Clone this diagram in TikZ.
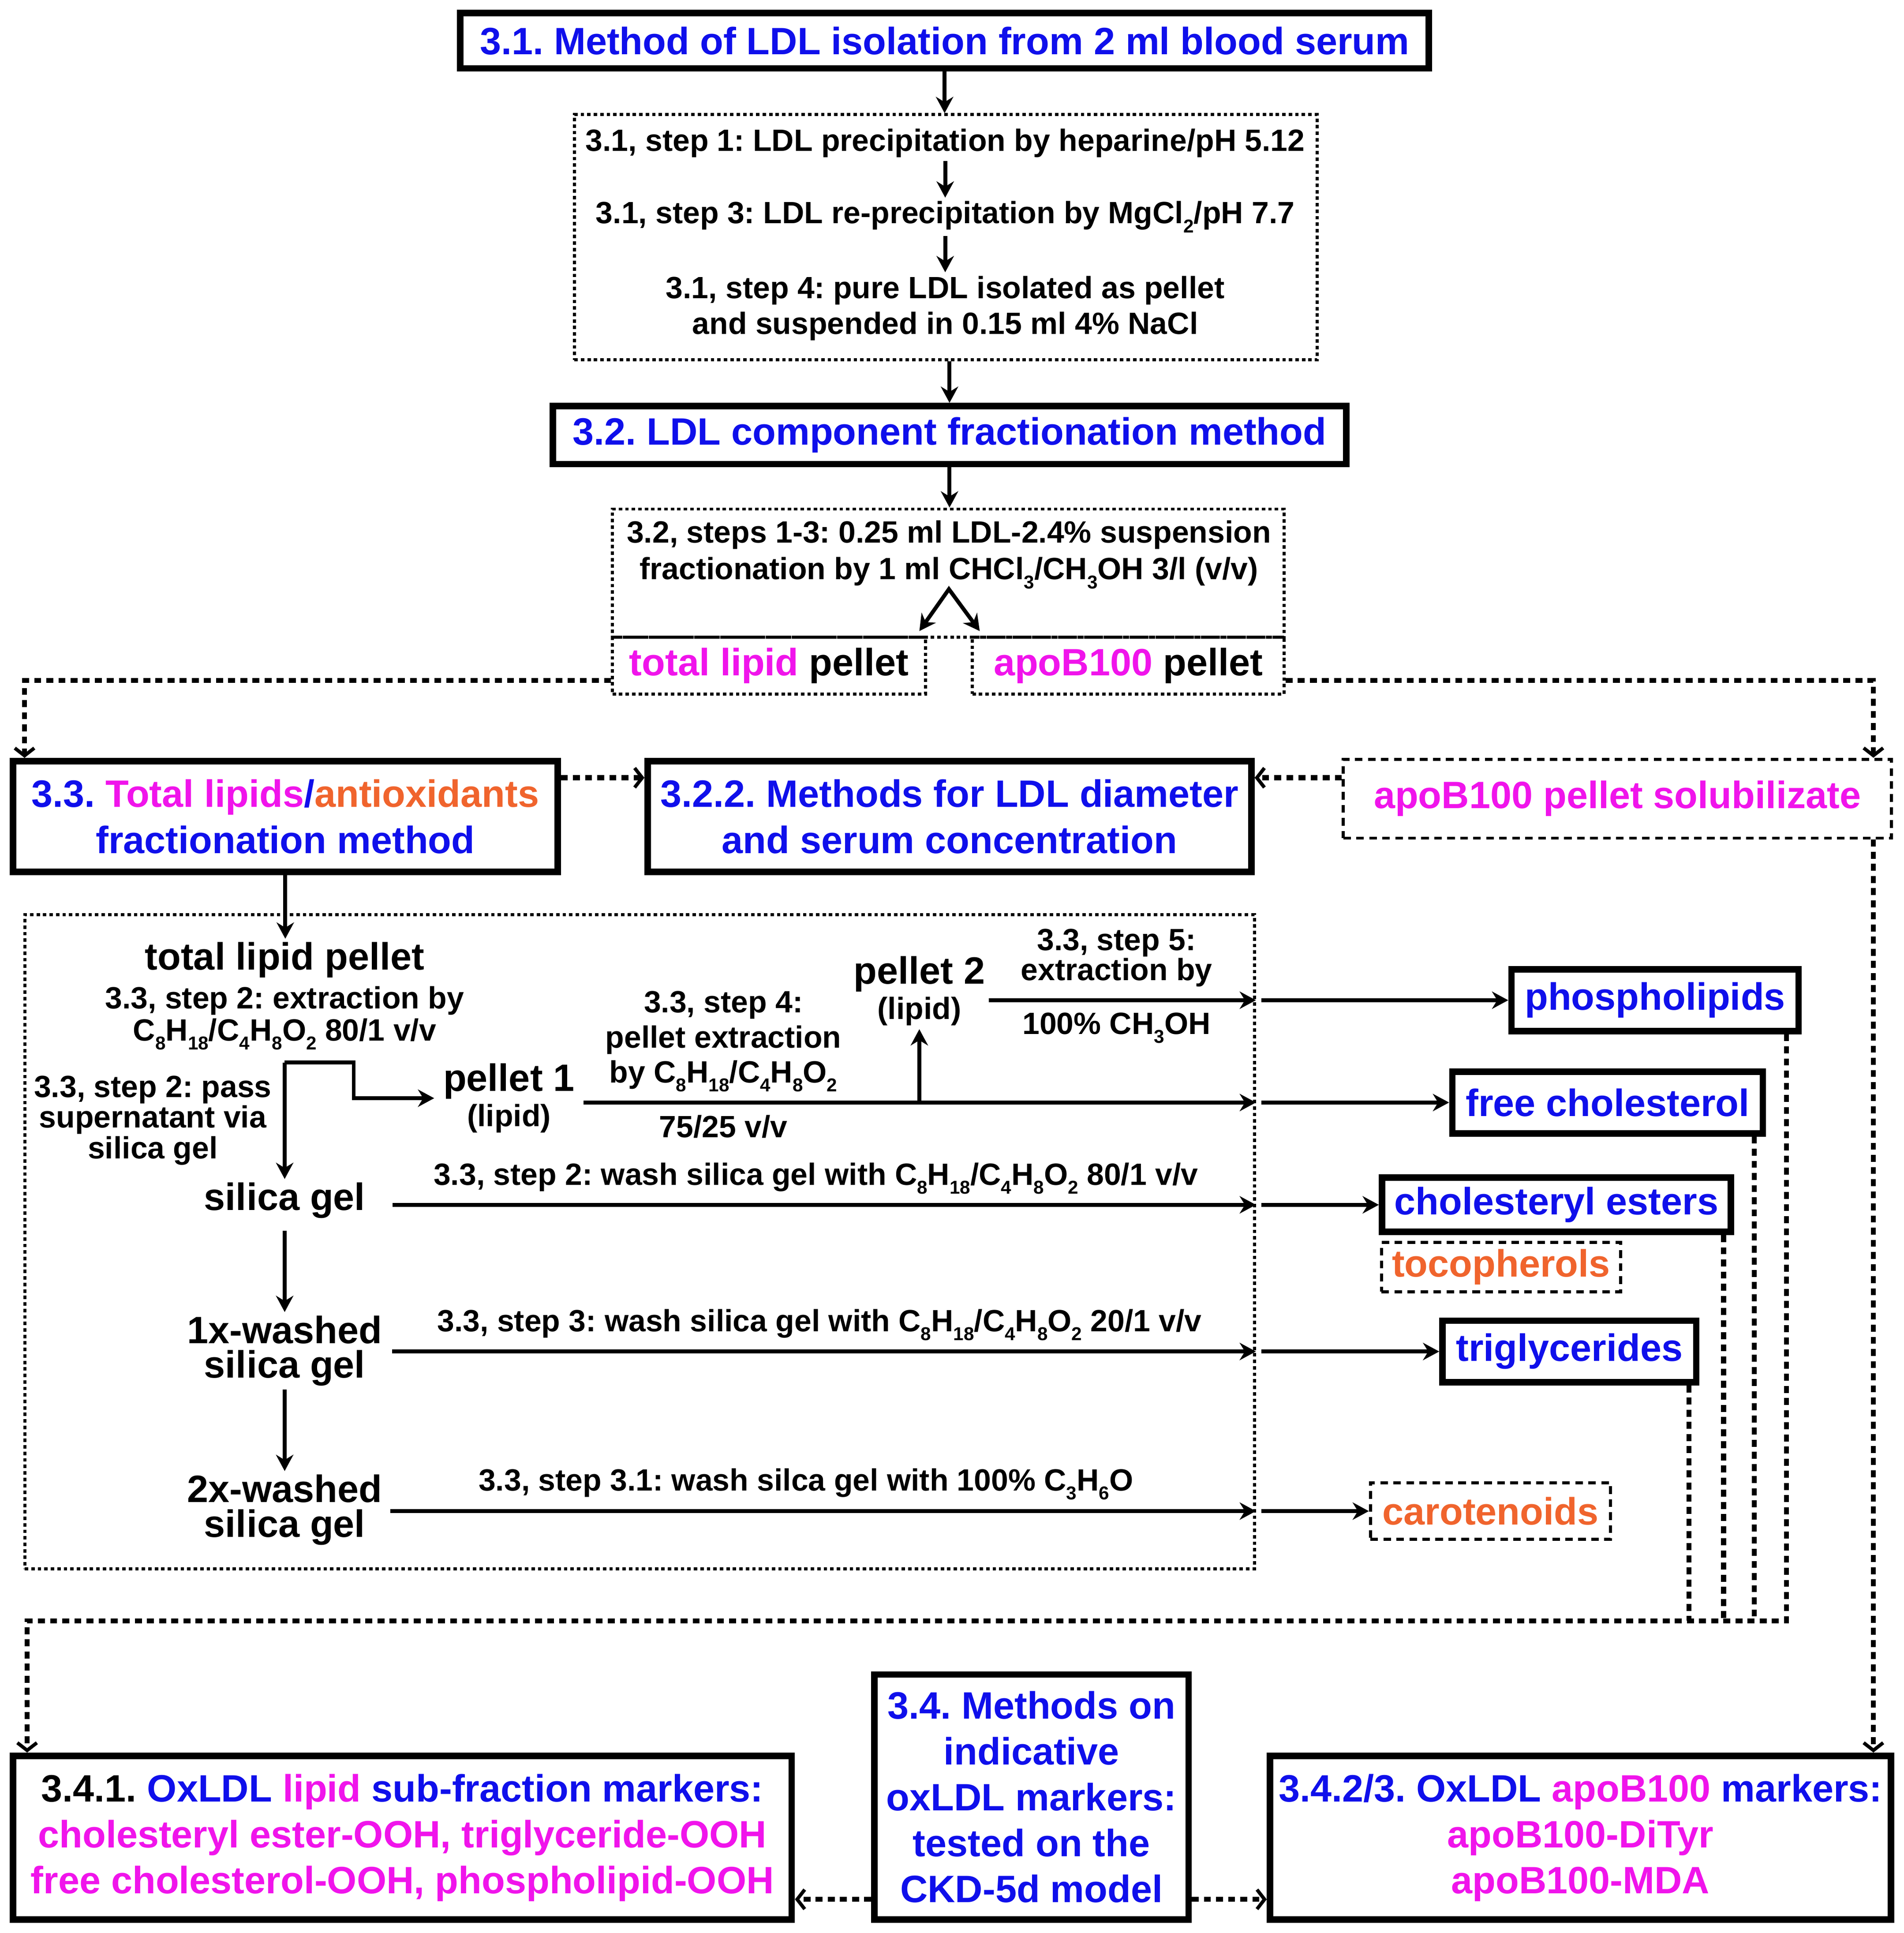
\documentclass[tikz,border=0pt]{standalone}
\usepackage{fontspec}
\setmainfont{Liberation Sans}
\usetikzlibrary{arrows.meta,calc}
\frenchspacing
\definecolor{ldlblue}{RGB}{15,15,235}
\definecolor{ldlpink}{RGB}{240,20,235}
\definecolor{ldlorange}{RGB}{240,100,45}
\newcommand\hdsize[1][21.2]{\bfseries\fontsize{17.6}{#1}\selectfont}
\newcommand\stsize[1][16.5]{\bfseries\fontsize{14.2}{#1}\selectfont}
\newcommand\chsub[1]{\raisebox{-0.55ex}{\fontsize{8.6}{9}\selectfont #1}}
\tikzset{
  method/.style={draw, line width=3pt, inner sep=0pt, align=center, font=\hdsize, text=ldlblue},
  dframe/.style={draw, line width=1.4pt, dash pattern=on 1.6pt off 1.4pt, inner sep=0pt, align=center},
  lframe/.style={dframe, dash pattern=on 3.5pt off 2.5pt, font=\hdsize},
  steptext/.style={inner sep=1.5pt, align=center, font=\stsize},
  bigtext/.style={inner sep=1.5pt, align=center, font=\hdsize},
  arr/.style={line width=1.8pt, -{Stealth[length=7.5pt,width=8pt,inset=2.4pt]}},
  arrs/.style={line width=1.8pt, {Stealth[length=7.5pt,width=8pt,inset=2.4pt]}-{Stealth[length=7.5pt,width=8pt,inset=2.4pt]}},
  routeline/.style={line width=2.3pt, dash pattern=on 3.2pt off 2.4pt},
  route/.style={routeline, -{Straight Barb[length=3.5pt,width=9pt,line width=1.6pt]}},
}
\begin{document}
\begin{tikzpicture}[x=0.02cm,y=-0.02cm]
    \useasboundingbox (0,0) rectangle (1545,1568.3);
    %% 3.1 isolation
    \node[method,minimum width=15.72cm,minimum height=0.9cm] (m31) at (766.5,33) {3.1. Method of LDL isolation from 2 ml blood serum};
    \node[dframe,minimum width=12.06cm,minimum height=3.98cm] (s31) at (767.5,192.5) {};
    \node[steptext] (st1) at (767,116) {3.1, step 1: LDL precipitation by heparine/pH 5.12};
    \node[steptext] (st3) at (767,176) {3.1, step 3: LDL re-precipitation by MgCl\chsub{2}/pH 7.7};
    \node[steptext] (st4) at (767,250) {3.1, step 4: pure LDL isolated as pellet\\and suspended in 0.15 ml 4\% NaCl};
    \draw[arr] (m31.south) -- (m31.south |- s31.north);
    \draw[arr] (st1) -- (st3);
    \draw[arr] (st3) -- (st4);
    %% 3.2 fractionation
    \node[method,minimum width=12.88cm,minimum height=0.94cm] (m32) at (770.5,353) {3.2. LDL component fractionation method};
    \draw[arr] (s31.south -| m32.north) -- (m32.north);
    \node[dframe,minimum width=10.9cm,minimum height=2.08cm] (s32) at (769.5,465) {};
    \draw[arr] (m32.south) -- (m32.south |- s32.north);
    \node[steptext,font={\stsize[17]}] (st32) at (770,450) {3.2, steps 1-3: 0.25 ml LDL-2.4\% suspension\\fractionation by 1 ml CHCl\chsub{3}/CH\chsub{3}OH 3/l (v/v)};
    \node[dframe,font=\hdsize,minimum width=5.08cm,minimum height=0.92cm] (tlp) at (624,540) {\textcolor{ldlpink}{total lipid} pellet};
    \node[dframe,font=\hdsize,minimum width=5.06cm,minimum height=0.92cm] (apl) at (915.5,540) {\textcolor{ldlpink}{apoB100} pellet};
    \coordinate (pk) at (770,478);
    \coordinate (tipl) at (746,512);
    \coordinate (tipr) at (795,512);
    \draw[arrs] (tipl) -- (pk) -- (tipr);
    %% 3.3 and 3.2.2
    \node[method,minimum width=8.84cm,minimum height=1.8cm] (m33) at (231.5,662.5) {3.3. \textcolor{ldlpink}{Total lipids}/\textcolor{ldlorange}{antioxidants}\\fractionation method};
    \node[method,minimum width=9.8cm,minimum height=1.8cm] (m322) at (770.5,662.5) {3.2.2. Methods for LDL diameter\\and serum concentration};
    \node[lframe,text=ldlpink,minimum width=8.9cm,minimum height=1.28cm] (sol) at (1312.5,648) {apoB100 pellet solubilizate};
    \coordinate (lrt) at ([xshift=0.24cm]m33.north west);
    \coordinate (solR) at ([xshift=-0.32cm]sol.south east);
    \coordinate (sideL) at ([yshift=0.63cm]m33.east);
    \coordinate (sideR) at ([yshift=0.63cm]m322.east);
    \draw[route] ([yshift=-0.24cm]tlp.west) -| (lrt);
    \draw[route] ([yshift=-0.24cm]apl.east) -| (solR |- sol.north);
    \draw[route] (sideL) -- (sideL -| m322.west);
    \draw[route] (sideR -| sol.west) -- (sideR);
    %% lipid fractions
    \node[dframe,minimum width=19.96cm,minimum height=10.62cm] (s33) at (519,1007.5) {};
    \node[bigtext] (tlp2) at (231,779) {total lipid pellet};
    \draw[arr] (m33.south) -- (m33.south |- tlp2.north);
    \node[steptext,font={\stsize[14.8]}] (ex2) at (231,826) {3.3, step 2: extraction by\\C\chsub{8}H\chsub{18}/C\chsub{4}H\chsub{8}O\chsub{2} 80/1 v/v};
    \node[steptext,font={\stsize[14.2]}] (pass) at (124,909) {3.3, step 2: pass\\supernatant via\\silica gel};
    \coordinate (split) at (231,862);
    \node[bigtext] (sg) at (231,974) {silica gel};
    \node[bigtext,font={\hdsize[16]}] (ssg1) at (231,1096) {1x-washed\\silica gel};
    \node[bigtext,font={\hdsize[16]}] (ssg2) at (231,1225) {2x-washed\\silica gel};
    \node[bigtext,inner sep=4pt] (p1) at (413,891) {pellet 1\\[-5pt]{\stsize (lipid)}};
    \node[bigtext] (p2) at (746,804) {pellet 2\\[-5pt]{\stsize (lipid)}};
    \node[steptext,font={\stsize[16.2]}] (s4) at (587,845) {3.3, step 4:\\pellet extraction\\by C\chsub{8}H\chsub{18}/C\chsub{4}H\chsub{8}O\chsub{2}};
    \node[steptext] (vv) at (587,914) {75/25 v/v};
    \node[steptext,font={\stsize[13.8]}] (s5) at (906,777) {3.3, step 5:\\extraction by};
    \node[steptext] (m5) at (906,834) {100\% CH\chsub{3}OH};
    \node[steptext] (w2) at (662,956) {3.3, step 2: wash silica gel with C\chsub{8}H\chsub{18}/C\chsub{4}H\chsub{8}O\chsub{2} 80/1 v/v};
    \node[steptext] (w3) at (665,1075) {3.3, step 3: wash silica gel with C\chsub{8}H\chsub{18}/C\chsub{4}H\chsub{8}O\chsub{2} 20/1 v/v};
    \node[steptext] (w31) at (654,1204) {3.3, step 3.1: wash silca gel with 100\% C\chsub{3}H\chsub{6}O};
    %% fraction boxes
    \node[method,minimum width=4.66cm,minimum height=1cm] (ph) at (1343,811.5) {phospholipids};
    \node[method,minimum width=5.04cm,minimum height=1cm] (fc) at (1304.5,894.5) {free cholesterol};
    \node[method,minimum width=5.66cm,minimum height=0.88cm] (ce) at (1263,977.5) {cholesteryl esters};
    \node[lframe,text=ldlorange,minimum width=3.88cm,minimum height=0.8cm] (toc) at (1218,1028) {tocopherols};
    \node[method,minimum width=4.12cm,minimum height=1cm] (tg) at (1273.5,1096.5) {triglycerides};
    \node[lframe,text=ldlorange,minimum width=3.9cm,minimum height=0.92cm] (car) at (1209.5,1226) {carotenoids};
    \draw[arr] (split) -- (sg);
    \draw[arr] (split) -- ++(56,0) |- (p1.west);
    \draw[arr] (p1.east |- fc.west) -- (fc.west -| s33.east);
    \draw[arr] (p2.south |- fc.west) -- (p2.south);
    \draw[arr] (p2.east |- ph.west) -- (ph.west -| s33.east);
    \draw[arr,shorten <=11pt] (sg.east |- ce.west) -- (ce.west -| s33.east);
    \draw[arr,shorten <=3pt] (ssg1.east |- tg.west) -- (tg.west -| s33.east);
    \draw[arr,shorten <=2pt] (ssg2.east |- car.west) -- (car.west -| s33.east);
    \draw[arr,shorten <=2.5pt] (ph.west -| s33.east) -- (ph.west);
    \draw[arr,shorten <=2.5pt] (fc.west -| s33.east) -- (fc.west);
    \draw[arr,shorten <=2.5pt] (ce.west -| s33.east) -- (ce.west);
    \draw[arr,shorten <=2.5pt] (tg.west -| s33.east) -- (tg.west);
    \draw[arr,shorten <=2.5pt] (car.west -| s33.east) -- (car.west);
    \draw[arr,shorten <=4pt] (sg) -- (ssg1);
    \draw[arr] (ssg1) -- (ssg2);
    %% 3.4 markers
    \node[method,text=black,minimum width=12.64cm,minimum height=2.66cm] (m341) at (326.5,1491) {3.4.1. \textcolor{ldlblue}{OxLDL} \textcolor{ldlpink}{lipid} \textcolor{ldlblue}{sub-fraction markers:}\\\textcolor{ldlpink}{cholesteryl ester-OOH, triglyceride-OOH}\\\textcolor{ldlpink}{free cholesterol-OOH, phospholipid-OOH}};
    \node[method,minimum width=5.1cm,minimum height=3.98cm] (m34) at (837,1458) {3.4. Methods on\\indicative\\oxLDL markers:\\tested on the\\CKD-5d model};
    \node[method,minimum width=10.08cm,minimum height=2.66cm] (m342) at (1282.5,1491) {3.4.2/3. OxLDL \textcolor{ldlpink}{apoB100} markers:\\\textcolor{ldlpink}{apoB100-DiTyr}\\\textcolor{ldlpink}{apoB100-MDA}};
    \coordinate (bus) at (22,1315);
    \coordinate (phd) at ([xshift=-0.25cm]ph.south east);
    \coordinate (fcd) at ([xshift=-0.19cm]fc.south east);
    \coordinate (ced) at ([xshift=-0.17cm]ce.south east);
    \coordinate (tgd) at ([xshift=-0.17cm]tg.south east);
    \draw[routeline] (fcd) -- (fcd |- bus);
    \draw[routeline] (ced) -- (ced |- bus);
    \draw[routeline] (tgd) -- (tgd |- bus);
    \draw[route] (phd) |- (bus) -- (bus |- m341.north);
    \draw[route] (solR) -- (solR |- m342.north);
    \coordinate (lowL) at ([yshift=-1.66cm]m34.west);
    \coordinate (lowR) at ([yshift=-1.66cm]m34.east);
    \draw[route] (lowL) -- (lowL -| m341.east);
    \draw[route] (lowR) -- (lowR -| m342.west);
\end{tikzpicture}
\end{document}
